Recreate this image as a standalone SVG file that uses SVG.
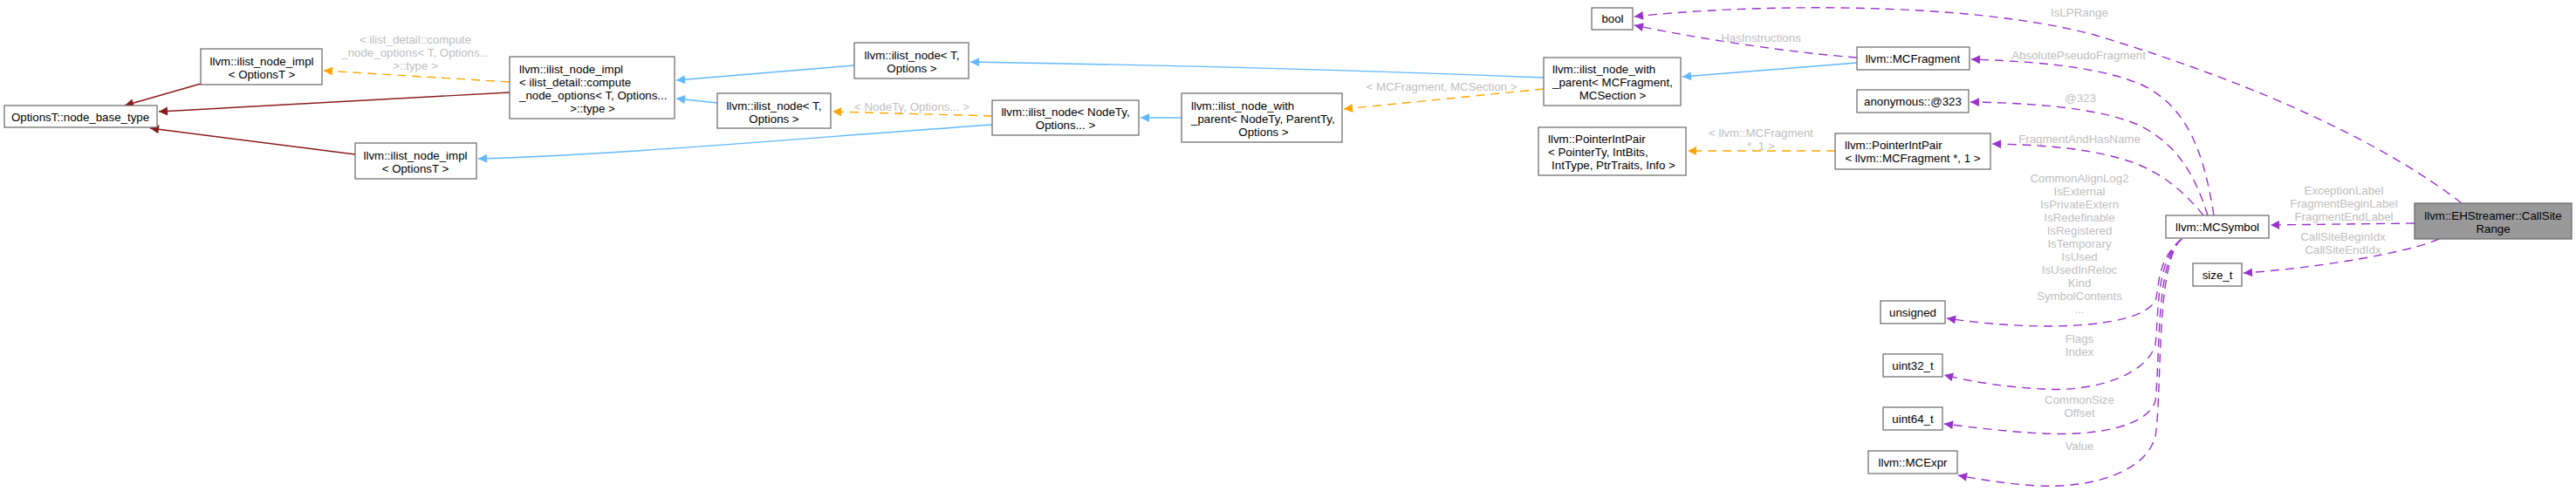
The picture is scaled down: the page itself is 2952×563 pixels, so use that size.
<svg xmlns="http://www.w3.org/2000/svg" width="2952" height="563" viewBox="0 0 2952 563">
<style>
  .node rect { fill: #ffffff; stroke: #666666; stroke-width: 1.2; }
  .node.focus rect { fill: #999999; }
  text { font-family: "Liberation Sans", Arial, sans-serif; font-size: 13.3px; fill: #000000; }
  .c { text-anchor: middle; }
  .l { text-anchor: start; }
  .lbl text { fill: #bebebe; text-anchor: middle; }
  .edges path { fill: none; stroke-width: 1.4; }
  .red { stroke: #8b1a1a; }
  .blue { stroke: #63b8ff; }
  .orange { stroke: #ffa500; stroke-dasharray: 10 7; }
  .purple { stroke: #9a32cd; stroke-dasharray: 10 7; }
</style>
<defs>
  <marker id="aRed" viewBox="0 0 10 10" refX="10" refY="5" markerWidth="15" markerHeight="10" markerUnits="userSpaceOnUse" orient="auto"><path d="M0,0 L10,5 L0,10 z" fill="#8b1a1a" stroke="none"/></marker>
  <marker id="aBlue" viewBox="0 0 10 10" refX="10" refY="5" markerWidth="15" markerHeight="10" markerUnits="userSpaceOnUse" orient="auto"><path d="M0,0 L10,5 L0,10 z" fill="#63b8ff" stroke="none"/></marker>
  <marker id="aOrange" viewBox="0 0 10 10" refX="10" refY="5" markerWidth="15" markerHeight="10" markerUnits="userSpaceOnUse" orient="auto"><path d="M0,0 L10,5 L0,10 z" fill="#ffa500" stroke="none"/></marker>
  <marker id="aPurple" viewBox="0 0 10 10" refX="10" refY="5" markerWidth="15" markerHeight="10" markerUnits="userSpaceOnUse" orient="auto"><path d="M0,0 L10,5 L0,10 z" fill="#9a32cd" stroke="none"/></marker>
</defs>
<rect width="2952" height="563" fill="#ffffff"/>

<g id="edges" class="edges">
  <path class="red" d="M230,96 L143,121" marker-end="url(#aRed)"/>
  <path class="red" d="M584,106 L182,128" marker-end="url(#aRed)"/>
  <path class="red" d="M407,177 L172,147" marker-end="url(#aRed)"/>
  <path class="orange" d="M584,94 L371,81" marker-end="url(#aOrange)"/>
  <path class="orange" d="M1137,133 L954,128" marker-end="url(#aOrange)"/>
  <path class="orange" d="M1769,102 L1540,125" marker-end="url(#aOrange)"/>
  <path class="orange" d="M2103,173 L1934,173" marker-end="url(#aOrange)"/>
  <path class="blue" d="M979,75 L775,92" marker-end="url(#aBlue)"/>
  <path class="blue" d="M822,118 L775,113" marker-end="url(#aBlue)"/>
  <path class="blue" d="M1137,143 C900,160 700,178 548,182" marker-end="url(#aBlue)"/>
  <path class="blue" d="M1354,135 L1307,135" marker-end="url(#aBlue)"/>
  <path class="blue" d="M1769,89 C1550,80 1300,74 1112,71" marker-end="url(#aBlue)"/>
  <path class="blue" d="M2128,72 L1928,88" marker-end="url(#aBlue)"/>
  <path class="purple" d="M2128,66 C2050,60 1950,45 1873,29" marker-end="url(#aPurple)"/>
  <path class="purple" d="M2821,233 C2740,170 2600,100 2400,40 C2250,0 2000,5 1873,19" marker-end="url(#aPurple)"/>
  <path class="purple" d="M2537,247 C2525,170 2505,125 2460,100 C2410,75 2320,70 2259,68" marker-end="url(#aPurple)"/>
  <path class="purple" d="M2530,247 C2515,200 2495,165 2450,143 C2400,122 2320,118 2258,117" marker-end="url(#aPurple)"/>
  <path class="purple" d="M2525,247 C2505,222 2480,200 2446,187 C2400,170 2340,166 2283,165" marker-end="url(#aPurple)"/>
  <path class="purple" d="M2767,256 L2602,258" marker-end="url(#aPurple)"/>
  <path class="purple" d="M2795,274 C2760,290 2650,308 2571,313" marker-end="url(#aPurple)"/>
  <path class="purple" d="M2500,274 C2470,300 2475,330 2470,345 C2450,378 2330,380 2231,365" marker-end="url(#aPurple)"/>
  <path class="purple" d="M2500,274 C2470,300 2474,360 2470,395 C2460,430 2400,450 2340,446 C2300,444 2260,438 2228,430" marker-end="url(#aPurple)"/>
  <path class="purple" d="M2500,274 C2470,300 2476,400 2470,460 C2460,490 2400,500 2340,497 C2300,495 2260,490 2228,486" marker-end="url(#aPurple)"/>
  <path class="purple" d="M2500,274 C2470,300 2478,450 2470,500 C2460,540 2400,560 2336,557 C2300,555 2270,550 2244,545" marker-end="url(#aPurple)"/>
</g>

<g id="edge-labels" class="lbl">
  <text x="476" y="50">&lt; ilist_detail::compute</text>
  <text x="476" y="65">_node_options&lt; T, Options...</text>
  <text x="476" y="80">&gt;::type &gt;</text>
  <text x="1045" y="127">&lt; NodeTy, Options... &gt;</text>
  <text x="1652" y="104">&lt; MCFragment, MCSection &gt;</text>
  <text x="2018" y="157">&lt; llvm::MCFragment</text>
  <text x="2018" y="172"> *, 1 &gt;</text>
  <text x="2018" y="48">HasInstructions</text>
  <text x="2383" y="19">IsLPRange</text>
  <text x="2382" y="68">AbsolutePseudoFragment</text>
  <text x="2384" y="117">@323</text>
  <text x="2383" y="164">FragmentAndHasName</text>
  <text x="2383" y="209">CommonAlignLog2</text>
  <text x="2383" y="224">IsExternal</text>
  <text x="2383" y="239">IsPrivateExtern</text>
  <text x="2383" y="254">IsRedefinable</text>
  <text x="2383" y="269">IsRegistered</text>
  <text x="2383" y="284">IsTemporary</text>
  <text x="2383" y="299">IsUsed</text>
  <text x="2383" y="314">IsUsedInReloc</text>
  <text x="2383" y="329">Kind</text>
  <text x="2383" y="344">SymbolContents</text>
  <text x="2383" y="359">...</text>
  <text x="2383" y="393">Flags</text>
  <text x="2383" y="408">Index</text>
  <text x="2383" y="463">CommonSize</text>
  <text x="2383" y="478">Offset</text>
  <text x="2383" y="516">Value</text>
  <text x="2686" y="223">ExceptionLabel</text>
  <text x="2686" y="238">FragmentBeginLabel</text>
  <text x="2686" y="253">FragmentEndLabel</text>
  <text x="2685" y="276">CallSiteBeginIdx</text>
  <text x="2685" y="291">CallSiteEndIdx</text>
</g>

<g id="n_node_base_type" class="node"><rect x="5" y="121" width="175" height="25"/><text class="c" x="92" y="139">OptionsT::node_base_type</text></g>
<g id="n_impl_top" class="node"><rect x="230" y="56" width="139" height="41"/><text class="c" x="300" y="75">llvm::ilist_node_impl</text><text class="c" x="300" y="90">&lt; OptionsT &gt;</text></g>
<g id="n_impl_bottom" class="node"><rect x="407" y="164" width="139" height="41"/><text class="c" x="476" y="183">llvm::ilist_node_impl</text><text class="c" x="476" y="198">&lt; OptionsT &gt;</text></g>
<g id="n_impl_compute" class="node"><rect x="584" y="65" width="189" height="71"/><text class="l" x="595" y="84">llvm::ilist_node_impl</text><text class="l" x="595" y="99">&lt; ilist_detail::compute</text><text class="l" x="595" y="114">_node_options&lt; T, Options...</text><text class="c" x="679" y="129">&gt;::type &gt;</text></g>
<g id="n_ilist_node_top" class="node"><rect x="979" y="49" width="131" height="41"/><text class="c" x="1045" y="68">llvm::ilist_node&lt; T,</text><text class="c" x="1045" y="83">Options &gt;</text></g>
<g id="n_ilist_node_mid" class="node"><rect x="822" y="107" width="130" height="40"/><text class="c" x="887" y="126">llvm::ilist_node&lt; T,</text><text class="c" x="887" y="141">Options &gt;</text></g>
<g id="n_ilist_node_nodety" class="node"><rect x="1137" y="115" width="168" height="40"/><text class="c" x="1221" y="133">llvm::ilist_node&lt; NodeTy,</text><text class="c" x="1221" y="148">Options... &gt;</text></g>
<g id="n_with_parent_generic" class="node"><rect x="1354" y="107" width="184" height="56"/><text class="l" x="1365" y="126">llvm::ilist_node_with</text><text class="l" x="1365" y="141">_parent&lt; NodeTy, ParentTy,</text><text class="c" x="1448" y="156">Options &gt;</text></g>
<g id="n_with_parent_mcfragment" class="node"><rect x="1769" y="66" width="157" height="55"/><text class="l" x="1779" y="84">llvm::ilist_node_with</text><text class="l" x="1779" y="99">_parent&lt; MCFragment,</text><text class="c" x="1848" y="114">MCSection &gt;</text></g>
<g id="n_bool" class="node"><rect x="1824" y="9" width="47" height="25"/><text class="c" x="1848" y="26">bool</text></g>
<g id="n_mcfragment" class="node"><rect x="2128" y="54" width="129" height="26"/><text class="c" x="2192" y="72">llvm::MCFragment</text></g>
<g id="n_anonymous" class="node"><rect x="2128" y="103" width="128" height="26"/><text class="c" x="2192" y="121">anonymous::@323</text></g>
<g id="n_pip_generic" class="node"><rect x="1763" y="146" width="169" height="55"/><text class="l" x="1774" y="164">llvm::PointerIntPair</text><text class="l" x="1774" y="179">&lt; PointerTy, IntBits,</text><text class="c" x="1849" y="194">IntType, PtrTraits, Info &gt;</text></g>
<g id="n_pip_mcfragment" class="node"><rect x="2103" y="153" width="178" height="41"/><text class="l" x="2114" y="171">llvm::PointerIntPair</text><text class="c" x="2192" y="186">&lt; llvm::MCFragment *, 1 &gt;</text></g>
<g id="n_mcsymbol" class="node"><rect x="2482" y="247" width="118" height="26"/><text class="c" x="2541" y="265">llvm::MCSymbol</text></g>
<g id="n_callsiterange" class="node focus"><rect x="2767" y="233" width="180" height="41"/><text class="c" x="2857" y="252">llvm::EHStreamer::CallSite</text><text class="c" x="2857" y="267">Range</text></g>
<g id="n_size_t" class="node"><rect x="2513" y="302" width="56" height="26"/><text class="c" x="2541" y="320">size_t</text></g>
<g id="n_unsigned" class="node"><rect x="2155" y="345" width="74" height="26"/><text class="c" x="2192" y="363">unsigned</text></g>
<g id="n_uint32_t" class="node"><rect x="2158" y="406" width="68" height="26"/><text class="c" x="2192" y="424">uint32_t</text></g>
<g id="n_uint64_t" class="node"><rect x="2158" y="467" width="68" height="26"/><text class="c" x="2192" y="485">uint64_t</text></g>
<g id="n_mcexpr" class="node"><rect x="2141" y="517" width="102" height="26"/><text class="c" x="2192" y="535">llvm::MCExpr</text></g>
</svg>
